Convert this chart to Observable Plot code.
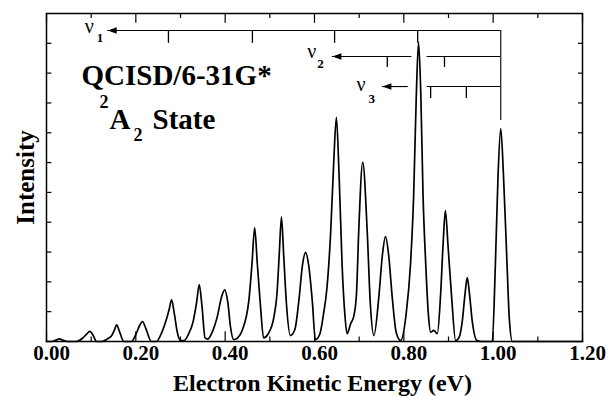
<!DOCTYPE html>
<html>
<head>
<meta charset="utf-8">
<script src="https://cdn.jsdelivr.net/npm/d3@7"></script>
<script src="https://cdn.jsdelivr.net/npm/@observablehq/plot@0.6"></script>
<style>
  html, body { margin: 0; padding: 0; background: #fff; }
  svg { display: block; }
  svg text { font-family: "Liberation Serif", "Times New Roman", Times, serif !important; }
</style>
</head>
<body>
<div id="chart"></div>
<script>
// ---- Data ----
// Simulated spectrum (electron kinetic energy in eV, intensity in arbitrary units)
const specEnergy = [
  0.000, 0.012, 0.020, 0.029, 0.038, 0.047, 0.066,
  0.080, 0.090, 0.097, 0.104, 0.112, 0.123,
  0.138, 0.146, 0.152, 0.157, 0.163, 0.173, 0.190,
  0.201, 0.208, 0.215, 0.222, 0.235, 0.246,
  0.258, 0.269, 0.275, 0.280, 0.286, 0.293, 0.300, 0.308,
  0.318, 0.328, 0.336, 0.342, 0.348, 0.355, 0.361,
  0.372, 0.382, 0.392, 0.399, 0.406, 0.412, 0.419,
  0.428, 0.438, 0.453, 0.460, 0.466, 0.472, 0.479, 0.486,
  0.496, 0.509, 0.516, 0.521, 0.526, 0.531, 0.537, 0.546,
  0.556, 0.565, 0.573, 0.580, 0.587, 0.595, 0.602,
  0.612, 0.620, 0.628, 0.636, 0.643, 0.649, 0.655, 0.662, 0.668, 0.673,
  0.681, 0.688, 0.694, 0.699, 0.708, 0.718, 0.725, 0.733,
  0.744, 0.752, 0.759, 0.766, 0.774, 0.783, 0.793,
  0.805, 0.815, 0.822, 0.828, 0.833, 0.838, 0.843, 0.849, 0.855, 0.860, 0.867, 0.875,
  0.882, 0.888, 0.893, 0.899, 0.907, 0.916,
  0.924, 0.931, 0.937, 0.942, 0.947, 0.953, 0.964, 0.975,
  0.998, 1.005, 1.011, 1.017, 1.023, 1.031, 1.036, 1.043, 1.200
];
const specIntensity = [
  0, 0, 0.04, 0.09, 0.04, 0, 0,
  0.10, 0.25, 0.34, 0.22, 0, 0,
  0.10, 0.20, 0.38, 0.56, 0.35, 0, 0,
  0.27, 0.52, 0.67, 0.45, 0, 0,
  0.30, 0.77, 1.10, 1.40, 0.95, 0.30, 0.03, 0.03,
  0.25, 0.65, 1.30, 1.91, 1.20, 0.12, 0.08,
  0.35, 0.81, 1.50, 1.73, 1.30, 0.48, 0.06,
  0.12, 0.37, 1.37, 2.60, 3.81, 2.60, 1.20, 0.12,
  0.25, 0.81, 1.60, 2.90, 4.17, 2.90, 1.30, 0.20,
  0.40, 1.37, 2.55, 2.99, 2.55, 1.37, 0.06,
  0.25, 0.90, 1.82, 3.60, 6.00, 7.52, 5.60, 2.49, 0.90, 0.26,
  0.60, 0.85, 1.60, 3.70, 6.01, 3.70, 1.26, 0.20,
  1.49, 2.90, 3.52, 2.90, 1.49, 0.30, 0.03,
  0.90, 2.61, 4.90, 8.30, 10.04, 8.30, 4.90, 2.61, 0.90, 0.31, 0.37, 0.26,
  1.49, 3.30, 4.39, 3.20, 1.49, 0.03,
  0.15, 0.70, 1.60, 2.14, 1.60, 0.70, 0.03, 0,
  0, 2.61, 5.60, 7.14, 5.60, 2.61, 0.80, 0, 0
];

// Axis ticks
const xMajorTicks = [0, 0.2, 0.4, 0.6, 0.8, 1.0, 1.2];
const xMinorTicks = [0.1, 0.3, 0.5, 0.7, 0.9, 1.1];
const yTicks = [1, 2, 3, 4, 5, 6, 7, 8, 9, 10];

// Vibrational progression combs (nu1, nu2, nu3)
const combSubscripts = ["1", "2", "3"];
const combLevels = [10.43, 9.56, 8.55];
const combTickBottoms = [10.0, 9.19, 8.15];
const combArrowTips = [0.137, 0.640, 0.752];
const combTicks = [[0.273, 0.461, 0.645, 0.831], [0.763, 0.891], [0.860, 0.940]];
const combGaps = [null, [0.818, 0.852], [0.810, 0.852]];
const combOrigin = 1.017;
const combOriginBottom = 7.41;

// ---- Build tables ----
const spectrum = specEnergy.map((e, i) => ({e, v: specIntensity[i]}));

const combSegments = [];
const combTickRows = [];
const combTips = [];
combLevels.forEach((lvl, i) => {
  const g = combGaps[i];
  if (g) {
    combSegments.push({x1: combArrowTips[i], x2: g[0], y: lvl});
    combSegments.push({x1: g[1], x2: combOrigin, y: lvl});
  } else {
    combSegments.push({x1: combArrowTips[i], x2: combOrigin, y: lvl});
  }
  combTicks[i].forEach(t => combTickRows.push({x: t, y1: combTickBottoms[i], y2: lvl}));
  combTips.push({x: combArrowTips[i], y: lvl, sub: combSubscripts[i]});
});

const leftTriangle = {
  draw(ctx) {
    ctx.moveTo(-4.5, 0);
    ctx.lineTo(4.5, -3.2);
    ctx.lineTo(4.5, 3.2);
    ctx.closePath();
  }
};

const serif = "Liberation Serif";
const ink = "#000";

// nu label offsets (px) relative to arrow tips
const nuDx = [-23, -25, -26];
const nuDy = [3, 2, 4];
const subDx = [-11, -15, -14];
const subDy = [12, 12, 16];

const nuLabels = combTips.flatMap((t, i) => [
  Plot.text([t], {x: "x", y: "y", text: () => "ν", textAnchor: "start", lineAnchor: "bottom",
    dx: nuDx[i], dy: nuDy[i], fontSize: 20, fontWeight: "normal", fontFamily: serif, fill: ink}),
  Plot.text([t], {x: "x", y: "y", text: "sub", textAnchor: "start", lineAnchor: "bottom",
    dx: subDx[i], dy: subDy[i], fontSize: 13, fontWeight: "bold", fontFamily: serif, fill: ink})
]);

const chart = Plot.plot({
  width: 610,
  height: 396,
  marginLeft: 46,
  marginRight: 28,
  marginTop: 13,
  marginBottom: 55,
  x: {domain: [0, 1.2]},
  y: {domain: [0, 11], axis: null},
  style: {fontFamily: serif, fontWeight: "bold", fontSize: "21px", color: ink, background: "#fff"},
  marks: [
    // spectrum
    Plot.line(spectrum, {x: "e", y: "v", curve: "monotone-x", stroke: ink, strokeWidth: 1.7}),

    // combs
    Plot.ruleY(combSegments, {x1: "x1", x2: "x2", y: "y", stroke: ink, strokeWidth: 1.1}),
    Plot.ruleX(combTickRows, {x: "x", y1: "y1", y2: "y2", stroke: ink, strokeWidth: 1.3}),
    Plot.ruleX([combOrigin], {x: d => d, y1: combOriginBottom, y2: combLevels[0], stroke: ink, strokeWidth: 1.1}),
    Plot.dot(combTips, {x: "x", y: "y", symbol: leftTriangle, fill: ink, stroke: null, dx: 4.5}),
    ...nuLabels,

    // axis frame + ticks
    Plot.frame({stroke: ink, strokeWidth: 1.5}),
    Plot.ruleX(xMajorTicks, {x: d => d, y1: 0, y2: 0.33, stroke: ink, strokeWidth: 1.2}),
    Plot.ruleX(xMinorTicks, {x: d => d, y1: 0, y2: 0.15, stroke: ink, strokeWidth: 1.2}),
    Plot.ruleX(xMajorTicks, {x: d => d, y1: 11, y2: 10.67, stroke: ink, strokeWidth: 1.2}),
    Plot.ruleX(xMinorTicks, {x: d => d, y1: 11, y2: 10.83, stroke: ink, strokeWidth: 1.2}),
    Plot.ruleY(yTicks, {y: d => d, x1: 0, x2: 0.012, stroke: ink, strokeWidth: 1.2}),
    Plot.ruleY(yTicks, {y: d => d, x1: 1.2, x2: 1.191, stroke: ink, strokeWidth: 1.2}),
    Plot.axisX({ticks: xMajorTicks, tickFormat: d3.format(".2f"), tickSize: 0, tickPadding: 4,
      dx: 5, label: null, fontSize: 21, fontWeight: "bold", fontFamily: serif}),

    // titles
    Plot.text(["Electron Kinetic Energy (eV)"], {text: d => d, frameAnchor: "bottom", lineAnchor: "bottom",
      dx: 8, dy: 49, fontSize: 24, fontWeight: "bold", fontFamily: serif, fill: ink}),
    Plot.text(["Intensity"], {text: d => d, frameAnchor: "left", rotate: -90, textAnchor: "middle",
      lineAnchor: "bottom", dx: -13, fontSize: 25, fontWeight: "bold", fontFamily: serif, fill: ink}),

    // annotation
    Plot.text(["QCISD/6-31G*"], {text: d => d, frameAnchor: "top-left", textAnchor: "start", lineAnchor: "bottom",
      dx: 35, dy: 71, fontSize: 29, fontWeight: "bold", fontFamily: serif, fill: ink}),
    Plot.text(["2"], {text: d => d, frameAnchor: "top-left", textAnchor: "start", lineAnchor: "bottom",
      dx: 53, dy: 94, fontSize: 18, fontWeight: "bold", fontFamily: serif, fill: ink}),
    Plot.text(["A"], {text: d => d, frameAnchor: "top-left", textAnchor: "start", lineAnchor: "bottom",
      dx: 63, dy: 115, fontSize: 29, fontWeight: "bold", fontFamily: serif, fill: ink}),
    Plot.text(["2"], {text: d => d, frameAnchor: "top-left", textAnchor: "start", lineAnchor: "bottom",
      dx: 87, dy: 127, fontSize: 18, fontWeight: "bold", fontFamily: serif, fill: ink}),
    Plot.text(["State"], {text: d => d, frameAnchor: "top-left", textAnchor: "start", lineAnchor: "bottom",
      dx: 106, dy: 115, fontSize: 29, fontWeight: "bold", fontFamily: serif, fill: ink})
  ]
});

document.getElementById("chart").appendChild(chart);
</script>
</body>
</html>
